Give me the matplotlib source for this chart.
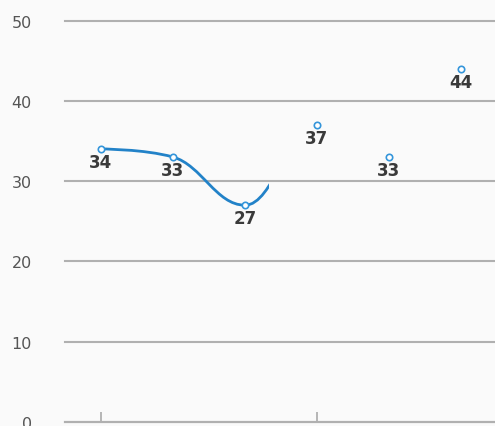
import numpy as np
import matplotlib
matplotlib.use('Agg')
import matplotlib.pyplot as plt
from matplotlib.path import Path
from matplotlib.patches import PathPatch, Rectangle

# data
values = [34, 33, 27, 37, 33, 44]
xpos = list(range(len(values)))
yticks = [0, 10, 20, 30, 40, 50]
xticks = [0, 3]
line_reveal = 2.33   # line drawn only up to here (caught mid-animation)

BG = '#fafafa'
BLUE = '#2282c8'
GRID = '#b0b0b0'


def spline_path(xs, ys, smoothing=1.5):
    # highcharts style spline control points
    denom = smoothing + 1
    n = len(xs)
    rc = [None] * n
    verts = [(xs[0], ys[0])]
    codes = [Path.MOVETO]
    for i in range(1, n):
        px, py = xs[i], ys[i]
        lx, ly = xs[i - 1], ys[i - 1]
        lcx, lcy = px, py
        if i < n - 1:
            nx, ny = xs[i + 1], ys[i + 1]
            lcx = (smoothing * px + lx) / denom
            lcy = (smoothing * py + ly) / denom
            rcx = (smoothing * px + nx) / denom
            rcy = (smoothing * py + ny) / denom
            corr = (rcy - lcy) * (rcx - px) / (rcx - lcx) + py - rcy
            lcy += corr
            rcy += corr
            if lcy > ly and lcy > py:
                lcy = max(ly, py); rcy = 2 * py - lcy
            elif lcy < ly and lcy < py:
                lcy = min(ly, py); rcy = 2 * py - lcy
            if rcy > ny and rcy > py:
                rcy = max(ny, py); lcy = 2 * py - rcy
            elif rcy < ny and rcy < py:
                rcy = min(ny, py); lcy = 2 * py - rcy
            rc[i] = (rcx, rcy)
        c1 = rc[i - 1] if rc[i - 1] is not None else (lx, ly)
        verts += [c1, (lcx, lcy), (px, py)]
        codes += [Path.CURVE4] * 3
    return Path(verts, codes)


fig = plt.figure(figsize=(4.95, 4.27), dpi=100, facecolor=BG)
ax = fig.add_axes([65 / 495, 4 / 427, 430 / 495, 401.5 / 427])
ax.set_facecolor(BG)
ax.set_xlim(-0.5, 5.475)
ax.set_ylim(0, 50)

ax.set_yticks(yticks)
ax.yaxis.grid(True, color=GRID, lw=1.5)
for gl in ax.get_ygridlines():
    gl.set_clip_on(False)
ax.set_axisbelow(True)
ax.tick_params(axis='y', length=0, pad=24, labelsize=11.5, labelcolor='#555555')
ax.set_xticks(xticks)
ax.set_xticklabels([''] * len(xticks))
ax.tick_params(axis='x', direction='in', length=7.5, width=1.3, color=GRID)
for s in ['top', 'right', 'left']:
    ax.spines[s].set_visible(False)
ax.spines['bottom'].set_color(GRID)
ax.spines['bottom'].set_linewidth(1.5)

patch = PathPatch(spline_path(xpos, values), facecolor='none', edgecolor=BLUE,
                  lw=2.0, capstyle='round', zorder=3)
ax.add_patch(patch)
clip = Rectangle((-0.5, 0), line_reveal + 0.5, 50, transform=ax.transData)
patch.set_clip_path(clip)

ax.plot(xpos, values, ls='none', marker='o', ms=4.6, mfc='white', mec='#3495da',
        mew=1.2, zorder=4, clip_on=False)

for x, v in zip(xpos, values):
    ax.annotate(str(v), (x, v), xytext=(0, -3), textcoords='offset points',
                ha='center', va='top', fontsize=12, fontweight='bold',
                color='#3a3a3a', zorder=5)

fig.savefig('out.png', dpi=100, facecolor=BG)
